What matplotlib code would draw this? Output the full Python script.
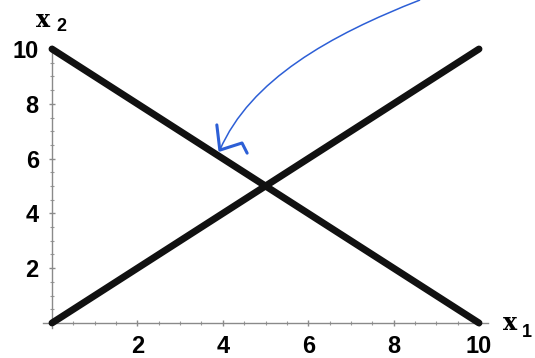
import matplotlib.pyplot as plt
from matplotlib.ticker import MultipleLocator, FixedLocator
from matplotlib.path import Path
from matplotlib.patches import PathPatch

# the two constraint lines
line_a_x = [0, 10]
line_a_y = [10, 0]
line_b_x = [0, 10]
line_b_y = [0, 10]

tick_vals = [2, 4, 6, 8, 10]
tick_labels = ["2", "4", "6", "8", "10"]

# hand-drawn pointer: one cubic stroke plus the arrowhead, in data units
arrow_ctrl = [(8.62, 11.79), (6.51, 10.51), (4.64, 8.87), (3.93, 6.31)]
barb_x = [3.86, 3.93, 4.45, 4.57]
barb_y = [7.23, 6.31, 6.57, 6.20]

W, H = 535, 358
fig = plt.figure(figsize=(W / 100, H / 100), dpi=100)
# axes placed so x: 0..10 -> px 52..479, y: 0..10 -> px 323..49
ax = fig.add_axes([39.2 / W, 26.8 / H, 452.6 / W, 290.4 / H])
ax.set_xlim(-0.3, 10.3)
ax.set_ylim(-0.3, 10.3)

ax.plot(line_a_x, line_a_y, color="#111111", lw=5.0, solid_capstyle="round", zorder=3)
ax.plot(line_b_x, line_b_y, color="#111111", lw=5.0, solid_capstyle="round", zorder=3)

blue = "#2d5fd6"
stroke = Path(arrow_ctrl, [Path.MOVETO, Path.CURVE4, Path.CURVE4, Path.CURVE4])
ax.add_patch(PathPatch(stroke, fill=False, edgecolor=blue, lw=1.1, clip_on=False, zorder=4))
ax.plot(barb_x, barb_y, color=blue, lw=2.2, clip_on=False, zorder=4,
        solid_capstyle="round", solid_joinstyle="round")

for s in ["top", "right"]:
    ax.spines[s].set_visible(False)
ax.spines["left"].set_position(("data", 0))
ax.spines["bottom"].set_position(("data", 0))
ax.spines["left"].set_bounds(-0.2, 10.1)
ax.spines["bottom"].set_bounds(-0.2, 10.2)
for s in ["left", "bottom"]:
    ax.spines[s].set_color("#8a8a8a")
    ax.spines[s].set_linewidth(1.0)

ax.xaxis.set_major_locator(FixedLocator(tick_vals))
ax.yaxis.set_major_locator(FixedLocator(tick_vals))
ax.xaxis.set_minor_locator(MultipleLocator(0.5))
ax.yaxis.set_minor_locator(MultipleLocator(0.5))
ax.set_xticklabels(tick_labels)
ax.set_yticklabels(tick_labels)
ax.tick_params(which="major", direction="inout", length=5, width=1, color="#8a8a8a")
ax.tick_params(which="minor", direction="inout", length=3, width=0.8, color="#9a9a9a")
ax.tick_params(axis="x", which="major", pad=6)
ax.tick_params(axis="y", which="major", pad=7)
for lab in ax.get_xticklabels() + ax.get_yticklabels():
    lab.set_fontfamily("Liberation Sans")
    lab.set_fontweight("bold")
    lab.set_fontsize(17)

# axis names
fig.text(36 / W, 1 - 27 / H, "x", fontfamily="DejaVu Serif", fontweight="bold",
         fontsize=17, va="baseline", ha="left")
fig.text(56 / W, 1 - 31 / H, "2", fontfamily="Liberation Sans", fontweight="bold",
         fontsize=13, va="baseline", ha="left")
fig.text(503 / W, 1 - 330 / H, "x", fontfamily="DejaVu Serif", fontweight="bold",
         fontsize=17, va="baseline", ha="left")
fig.text(522 / W, 1 - 337 / H, "1", fontfamily="Liberation Sans", fontweight="bold",
         fontsize=13, va="baseline", ha="left")

fig.savefig("out.png", dpi=100)
